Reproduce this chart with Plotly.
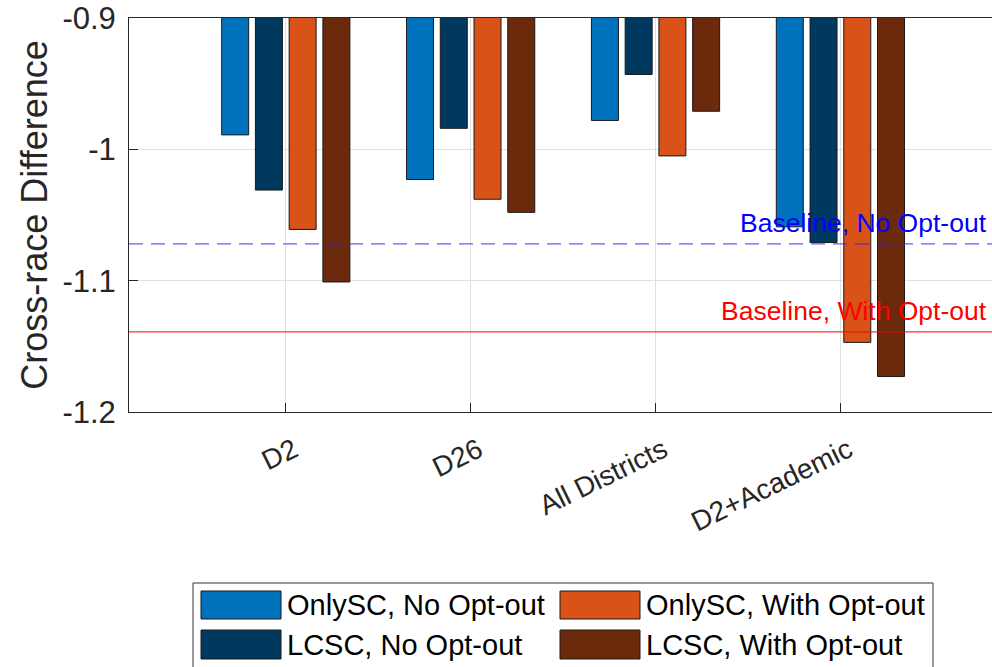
import plotly.graph_objects as go

categories = ["D2", "D26", "All Districts", "D2+Academic"]
series_names = ["OnlySC, No Opt-out", "LCSC, No Opt-out", "OnlySC, With Opt-out", "LCSC, With Opt-out"]
onlysc_no = [-0.989, -1.023, -0.978, -1.059]
lcsc_no = [-1.031, -0.984, -0.943, -1.071]
onlysc_with = [-1.061, -1.038, -1.005, -1.147]
lcsc_with = [-1.101, -1.048, -0.971, -1.173]
baseline_no = -1.072
baseline_with = -1.139
y_ticks = [-1.2, -1.1, -1.0, -0.9]
y_ticktext = ["-1.2", "-1.1", "-1", "-0.9"]

colors = ["#0072BD", "#00395F", "#D95319", "#6C2A0C"]
values = [onlysc_no, lcsc_no, onlysc_with, lcsc_with]
xpos = [1, 2, 3, 4]

FONT = "Liberation Sans, Arial, sans-serif"
W, H = 992, 667
L, R, T, B = 129, 0, 18, 255

fig = go.Figure()
for name, vals, col in zip(series_names, values, colors):
    fig.add_trace(go.Bar(x=xpos, y=vals, name=name, marker_color=col,
                         marker_line_color="#1a1a1a", marker_line_width=1,
                         showlegend=False))

# baselines
fig.add_hline(y=baseline_no, line=dict(color="rgba(40,40,255,0.75)", width=1.2, dash="14px,8px"))
fig.add_hline(y=baseline_with, line=dict(color="rgba(255,0,0,0.8)", width=1.2))
fig.add_annotation(x=0.996, xref="paper", y=baseline_no, yref="y", text="Baseline, No Opt-out",
                   showarrow=False, xanchor="right", yanchor="bottom", yshift=4,
                   font=dict(family=FONT, size=26.5, color="#0000FF"))
fig.add_annotation(x=0.996, xref="paper", y=baseline_with, yref="y", text="Baseline, With Opt-out",
                   showarrow=False, xanchor="right", yanchor="bottom", yshift=4,
                   font=dict(family=FONT, size=26.5, color="#FF0000"))

# custom legend (pixel layout -> paper coords)
pw = W - L - R
ph = H - T - B
def px(xp):
    return (xp - L) / pw
def py(yp):
    return (H - B - yp) / ph

fig.add_shape(type="rect", xref="paper", yref="paper", x0=px(193), x1=px(933), y0=py(700), y1=py(583),
              line=dict(color="#333333", width=1), fillcolor="white", layer="above")
legend_cells = [(0, 0, 0), (1, 0, 1), (0, 1, 2), (1, 1, 3)]  # (row, col, series index)
sw_x = [201, 560]
txt_x = [285, 644]
row_y = [(591, 619), (630, 659)]
for row, col, si in legend_cells:
    y0, y1 = row_y[row]
    fig.add_shape(type="rect", xref="paper", yref="paper", x0=px(sw_x[col]), x1=px(sw_x[col] + 80),
                  y0=py(y1), y1=py(y0), line=dict(color="#1a1a1a", width=1), fillcolor=colors[si],
                  layer="above")
    fig.add_annotation(x=px(txt_x[col]), y=py((y0 + y1) / 2), xref="paper", yref="paper",
                       text=series_names[si], showarrow=False, xanchor="left", yanchor="middle",
                       font=dict(family=FONT, size=29, color="#000000"))

fig.update_layout(
    width=W, height=H,
    margin=dict(l=L, r=R, t=T, b=B, autoexpand=False),
    plot_bgcolor="white", paper_bgcolor="white",
    barmode="group", bargap=0.27, bargroupgap=0.2,
    font=dict(family=FONT, color="#262626"),
)
fig.update_xaxes(range=[0.152, 4.82], tickvals=xpos, ticktext=categories, tickangle=-26,
                 showline=True, linecolor="#262626", linewidth=1, mirror=True,
                 ticks="inside", ticklen=9, tickcolor="#262626",
                 showgrid=True, gridcolor="#e0e0e0", gridwidth=1,
                 ticklabelstandoff=10, ticklabelshift=8,
                 tickfont=dict(family=FONT, size=28, color="#262626"), zeroline=False)
fig.update_yaxes(range=[-1.2, -0.9], tickvals=y_ticks, ticktext=y_ticktext,
                 showline=True, linecolor="#262626", linewidth=1,
                 ticks="inside", ticklen=9, tickcolor="#262626",
                 showgrid=True, gridcolor="#e0e0e0", gridwidth=1, zeroline=False,
                 tickfont=dict(family=FONT, size=31, color="#262626"),
                 ticklabelstandoff=6,
                 title=dict(text="Cross-race Difference", standoff=3,
                            font=dict(family=FONT, size=36, color="#262626")))

fig.write_html("out.html", config={"displayModeBar": False},
               post_script="document.body.style.margin='0px';document.body.style.overflow='hidden';")
